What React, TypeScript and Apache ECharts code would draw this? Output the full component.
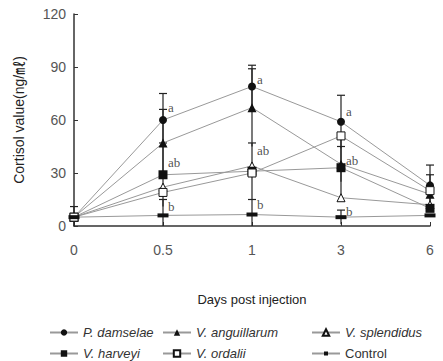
import React, { useEffect, useRef } from "react";
import * as echarts from "echarts";

const days = ["0", "0.5", "1", "3", "6"];
const yTicks = [0, 30, 60, 90, 120];

const pDamselae = [5, 60, 79, 59, 23];
const vAnguillarum = [5, 47, 67, 35, 18];
const vSplendidus = [5, 22, 34, 16, 12];
const vHarveyi = [5, 29, 31, 33, 10];
const vOrdalii = [5, 19, 30, 51, 20];
const control = [5, 6, 6.5, 5, 6];

const pDamselaeSD = [6, 15, 12, 15, 11.5];
const vAnguillarumSD = [0, 19, 22, 10, 0];
const vSplendidusSD = [0, 0, 0, 0, 0];
const vHarveyiSD = [0, 18, 16, 18, 0];
const vOrdaliiSD = [0, 0, 0, 0, 9];
const controlSD = [0, 9, 8.5, 4, 0];

const letterLabels: [number, number, string][] = [
  [1, 67, "a"], [1, 36, "ab"], [1, 11, "b"],
  [2, 83, "a"], [2, 43, "ab"], [2, 12, "b"],
  [3, 65, "a"], [3, 37, "ab"], [3, 8, "b"],
];

const seriesDefs = [
  { name: "P. damselae", values: pDamselae, sd: pDamselaeSD, symbol: "circle", filled: true, size: 8, italic: true },
  { name: "V. anguillarum", values: vAnguillarum, sd: vAnguillarumSD, symbol: "triangle", filled: true, size: 9, italic: true },
  { name: "V. splendidus", values: vSplendidus, sd: vSplendidusSD, symbol: "triangle", filled: false, size: 8, italic: true },
  { name: "V. harveyi", values: vHarveyi, sd: vHarveyiSD, symbol: "rect", filled: true, size: 9, italic: true },
  { name: "V. ordalii", values: vOrdalii, sd: vOrdaliiSD, symbol: "rect", filled: false, size: 8, italic: true },
  { name: "Control", values: control, sd: controlSD, symbol: "rect", filled: true, size: [11, 4], italic: false },
];

const legendSlots: Record<string, [number, number]> = {
  "P. damselae": [44, 321],
  "V. anguillarum": [157, 321],
  "V. splendidus": [306, 321],
  "V. harveyi": [44, 342],
  "V. ordalii": [157, 342],
  "Control": [306, 342],
};

export default function App() {
  const ref = useRef<HTMLDivElement>(null);
  useEffect(() => {
    document.body.style.margin = "0";
    const chart = echarts.init(ref.current!, null, { renderer: "svg" });
    const errData: number[][] = [];
    seriesDefs.forEach((s) => {
      s.values.forEach((v, i) => {
        if (s.sd[i] > 0) errData.push([i, v - s.sd[i], v + s.sd[i]]);
      });
    });
    const font = "'Liberation Sans', Arial, sans-serif";
    const lineSeries = seriesDefs.map((s) => ({
      name: s.name,
      type: "line",
      data: s.values,
      symbol: s.symbol,
      symbolSize: s.size,
      showAllSymbol: true,
      z: 3,
      lineStyle: { color: "#999", width: 1 },
      itemStyle: {
        color: s.filled ? "#111" : "#fff",
        borderColor: "#111",
        borderWidth: s.filled ? 0 : 1,
      },
      emphasis: { disabled: true },
    }));
    const legends = seriesDefs.map((s) => ({
      left: legendSlots[s.name][0],
      top: legendSlots[s.name][1],
      itemWidth: 28,
      itemHeight: s.name === "Control" ? 5 : 8,
      itemGap: 4,
      selectedMode: false,
      textStyle: {
        fontSize: 13,
        color: "#333",
        fontFamily: font,
        fontStyle: s.italic ? "italic" : "normal",
      },
      data: [s.name],
    }));
    chart.setOption({
      animation: false,
      grid: { left: 74, right: 13, top: 14, bottom: 135 },
      xAxis: {
        type: "category",
        data: days,
        boundaryGap: false,
        name: "Days post injection",
        nameLocation: "middle",
        nameGap: 67,
        nameTextStyle: { fontSize: 13, color: "#222", fontFamily: font },
        axisLine: { lineStyle: { color: "#333", width: 1.5 } },
        axisTick: { inside: true, length: 4, lineStyle: { color: "#333" }, alignWithLabel: true },
        axisLabel: { fontSize: 14, color: "#555", margin: 17, fontFamily: font },
        splitLine: { show: false },
      },
      yAxis: {
        type: "value",
        min: yTicks[0],
        max: yTicks[yTicks.length - 1],
        interval: 30,
        name: "Cortisol value(ng/㎖)",
        nameLocation: "middle",
        nameGap: 48,
        nameTextStyle: { fontSize: 14, color: "#222", fontFamily: font + ", 'Noto Sans CJK KR'" },
        axisLine: { show: true, lineStyle: { color: "#333", width: 1.5 } },
        axisTick: { show: true, inside: true, length: 4, lineStyle: { color: "#333" } },
        axisLabel: { fontSize: 14, color: "#555", margin: 8, fontFamily: font },
        splitLine: { show: false },
      },
      legend: legends,
      series: [
        ...lineSeries,
        {
          type: "custom",
          name: "err",
          z: 2,
          data: errData,
          encode: { x: 0, y: [1, 2] },
          renderItem: (params: any, api: any) => {
            const x = api.value(0);
            const lo = api.coord([x, Math.max(0, api.value(1))]);
            const hi = api.coord([x, api.value(2)]);
            const style = { stroke: "#222", lineWidth: 1.2 };
            return {
              type: "group",
              children: [
                { type: "line", shape: { x1: lo[0], y1: lo[1], x2: hi[0], y2: hi[1] }, style },
                { type: "line", shape: { x1: hi[0] - 4, y1: hi[1], x2: hi[0] + 4, y2: hi[1] }, style },
              ],
            };
          },
          silent: true,
        },
        {
          type: "scatter",
          name: "letters",
          data: letterLabels.map((l) => [l[0], l[1], l[2]]),
          symbolSize: 0,
          silent: true,
          itemStyle: { color: "#222" },
          label: {
            show: true,
            position: "right",
            distance: 5,
            formatter: (p: any) => p.data[2],
            fontSize: 13,
            color: "#222",
            textBorderWidth: 0,
            fontFamily: "'Liberation Serif', 'Times New Roman', serif",
          },
        },
      ],
    });
    return () => chart.dispose();
  }, []);
  return <div ref={ref} style={{ width: 443, height: 361 }} />;
}
